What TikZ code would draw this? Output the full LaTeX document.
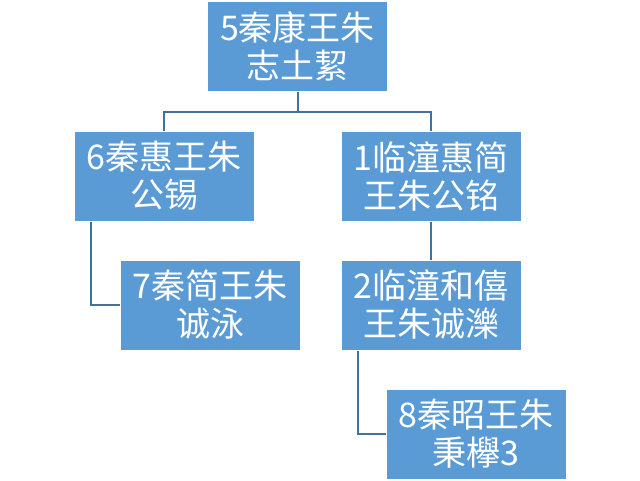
\documentclass[tikz,border=0pt]{standalone}
\usepackage{fontspec}
\newfontfamily\cjk{Noto Sans CJK SC}
\definecolor{boxblue}{RGB}{91,155,213}
\definecolor{lineblue}{RGB}{65,113,156}
\begin{document}
\begin{tikzpicture}[x=0.75pt,y=-0.75pt,
    person/.style ={rectangle, fill=boxblue, draw=white, line width=0.75pt, text=white, align=center,
      minimum width=135pt, minimum height=67.5pt, inner sep=0pt,
      font=\cjk\fontsize{25.5}{28.5}\selectfont},
    link/.style ={draw=lineblue, line width=1.5pt}]
   \useasboundingbox (0,0) rectangle (640,480);
   \node[person] (k5) at (297.5,46)  {5秦康王朱\\志土絜};
   \node[person] (k6) at (164,176)  {6秦惠王朱\\公锡};
   \node[person] (k1) at (431,176)  {1临潼惠简\\王朱公铭};
   \node[person] (k7) at (210,305)  {7秦简王朱\\诚泳};
   \node[person] (k2) at (431,305)  {2临潼和僖\\王朱诚濼};
   \node[person] (k8) at (476,434)  {8秦昭王朱\\秉欅3};
   \draw[link] (k5.south) -- ++(0,20) -| (k6.north);
   \draw[link] (k5.south) -- ++(0,20) -| (k1.north);
   \draw[link] (k1) to (k2);
   \draw[link] ([xshift=12.75pt]k6.south west) |- (k7.west);
   \draw[link] ([xshift=12.75pt]k2.south west) |- (k8.west);
 \end{tikzpicture}
\end{document}
